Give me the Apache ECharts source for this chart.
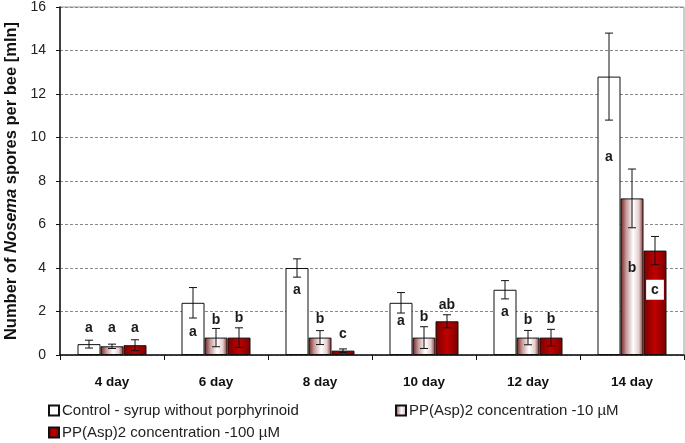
<!DOCTYPE html>
<html><head><meta charset="utf-8">
<script src="https://cdn.jsdelivr.net/npm/echarts@6/dist/echarts.min.js"></script>
<style>html,body{margin:0;padding:0;background:#fff}#c{width:685px;height:443px}</style>
</head><body><div id="c"></div>
<script>
const categories = ['4 day','6 day','8 day','10 day','12 day','14 day'];
const seriesNames = ['Control - syrup without porphyrinoid','PP(Asp)2 concentration -10 µM','PP(Asp)2 concentration -100 µM'];
const controlVals = [0.5, 2.4, 4.0, 2.4, 3.0, 12.8];
const pp10Vals    = [0.4, 0.8, 0.8, 0.8, 0.8, 7.2];
const pp100Vals   = [0.45, 0.8, 0.2, 1.55, 0.8, 4.8];
const controlErr  = [0.18, 0.7, 0.42, 0.47, 0.42, 2.0];
const pp10Err     = [0.1, 0.42, 0.32, 0.5, 0.33, 1.35];
const pp100Err    = [0.25, 0.45, 0.08, 0.3, 0.38, 0.65];
const controlLetters = ['a','a','a','a','a','a'];
const pp10Letters    = ['a','b','b','b','b','b'];
const pp100Letters   = ['a','b','c','ab','b','c'];
const controlLetterAt = [1.23, 1.07, 2.96, 1.56, 1.96, 9.1];
const pp10LetterAt    = [1.23, 1.61, 1.66, 1.76, 1.58, 4.0];
const pp100LetterAt   = [1.23, 1.69, 0.97, 2.27, 1.64, 3.0];
const yTicks = [0,2,4,6,8,10,12,14,16];

const SANS = '"Liberation Sans", Arial, sans-serif';
const BW = 23;

const fills = [
  '#ffffff',
  {type:'linear',x:0,y:0,x2:1,y2:0,colorStops:[{offset:0,color:'#6e1c1c'},{offset:0.25,color:'#c89a9a'},{offset:0.55,color:'#ffffff'},{offset:0.8,color:'#e6cccc'},{offset:1,color:'#7a2a2a'}]},
  {type:'linear',x:0,y:0,x2:1,y2:0,colorStops:[{offset:0,color:'#7a0000'},{offset:0.5,color:'#c00000'},{offset:1,color:'#7a0000'}]}
];
const vals = [controlVals, pp10Vals, pp100Vals];
const errs = [controlErr, pp10Err, pp100Err];
const letters = [controlLetters, pp10Letters, pp100Letters];
const letterAt = [controlLetterAt, pp10LetterAt, pp100LetterAt];

const series = [];
vals.forEach((v,i)=>{
  series.push({
    name: seriesNames[i], type:'bar', data:v, barWidth:BW, barGap:'0%',
    itemStyle:{color:fills[i], borderColor:'#111', borderWidth:1},
    emphasis:{disabled:true}, z:2
  });
});
vals.forEach((v,i)=>{
  const off = (i-1)*BW;
  series.push({
    type:'custom', silent:true, z:5,
    data: v.map((val,k)=>[k, val, errs[i][k], letterAt[i][k]]),
    renderItem:(params, api)=>{
      const k = api.value(0), val = api.value(1), e = api.value(2);
      const top = api.coord([k, val+e]), bot = api.coord([k, val-e]);
      const x = top[0] + off;
      const lp = api.coord([k, api.value(3)]);
      const letter = letters[i][k];
      const boxed = (i===2 && k===5);
      return {type:'group', children:[
        {type:'line', shape:{x1:x,y1:top[1],x2:x,y2:bot[1]}, style:{stroke:'#111',lineWidth:1}},
        {type:'line', shape:{x1:x-4,y1:top[1],x2:x+4,y2:top[1]}, style:{stroke:'#111',lineWidth:1}},
        {type:'line', shape:{x1:x-4,y1:bot[1],x2:x+4,y2:bot[1]}, style:{stroke:'#111',lineWidth:1}},
        {type:'text', x:x, y:lp[1], style:{text:letter, fill:'#1a1a1a', font:'bold 14px '+SANS, align:'center', verticalAlign:'middle',
          backgroundColor: boxed ? '#fff' : null, padding: boxed ? [3,5,3,5] : 0}}
      ]};
    }
  });
});

const legendText = {fontFamily:SANS, fontSize:15, color:'#222', padding:[0,0,0,-2]};
const chart = echarts.init(document.getElementById('c'));
chart.setOption({
  animation:false,
  backgroundColor:'#fff',
  grid:{left:60, right:1, top:7, bottom:88, containLabel:false, outerBoundsMode:'none', show:true, borderColor:'#999', borderWidth:1, backgroundColor:'transparent'},
  legend:[
    {data:[seriesNames[0]], left:43, top:398, itemWidth:10, itemHeight:10, textStyle:legendText, selectedMode:false, icon:'rect'},
    {data:[seriesNames[1]], left:390, top:398, itemWidth:10, itemHeight:10, textStyle:legendText, selectedMode:false, icon:'rect'},
    {data:[seriesNames[2]], left:43, top:420, itemWidth:10, itemHeight:10, textStyle:legendText, selectedMode:false, icon:'rect'}
  ],
  xAxis:{type:'category', data:categories,
    axisLine:{lineStyle:{color:'#111', width:1.5}},
    axisTick:{show:true, length:5, lineStyle:{color:'#111'}},
    axisLabel:{fontFamily:SANS, fontWeight:'bold', fontSize:13.5, color:'#111', margin:20}},
  yAxis:{type:'value', min:0, max:16, interval:2,
    name:'{n|Number of }{i|Nosema}{n| spores per bee [mln]}', nameLocation:'middle', nameGap:38,
    nameTextStyle:{rich:{n:{fontFamily:SANS, fontWeight:'bold', fontSize:16.5, color:'#111'}, i:{fontFamily:SANS, fontWeight:'bold', fontStyle:'italic', fontSize:16.5, color:'#111'}}},
    axisLine:{show:true, lineStyle:{color:'#111', width:1.5}},
    axisTick:{show:true, length:4, lineStyle:{color:'#111'}},
    axisLabel:{fontFamily:SANS, fontSize:14, color:'#222', margin:14,
      formatter:(v)=> yTicks.includes(v) ? String(v) : ''},
    splitLine:{show:true, lineStyle:{color:'#888', type:[3,2], width:1}}},
  series: series
});
</script>
</body></html>
